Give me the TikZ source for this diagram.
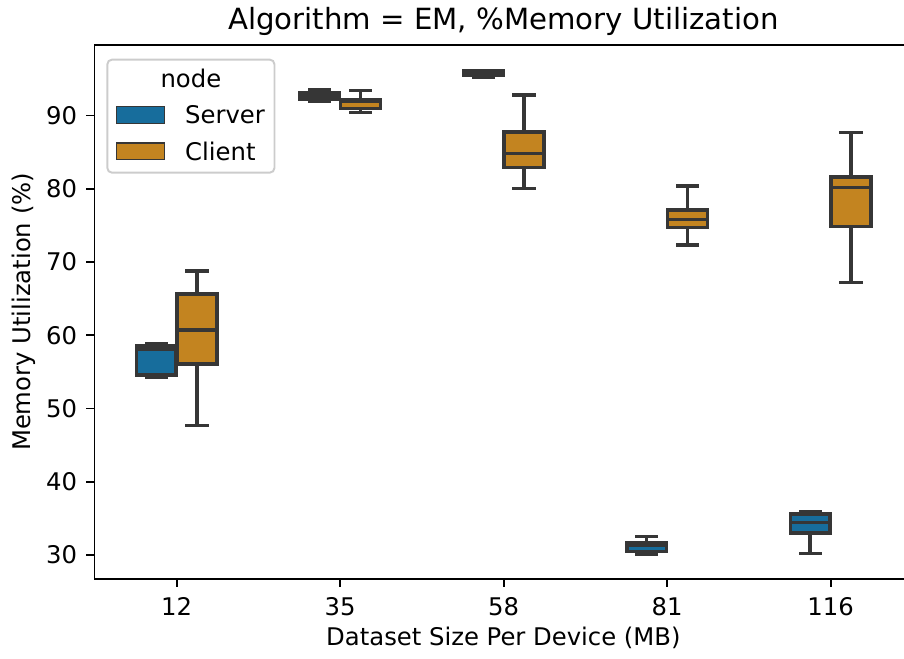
\documentclass[tikz,border=0pt]{standalone}
\usepackage{fontspec}
\setmainfont{DejaVu Sans}
\definecolor{srv}{RGB}{23,109,156}
\definecolor{cli}{RGB}{195,132,32}
\definecolor{edgegray}{RGB}{54,54,54}
\definecolor{framegray}{RGB}{204,204,204}
\newcommand{\lblfont}{\fontsize{12.15}{14}\selectfont}
\newcommand{\ttlfont}{\fontsize{14.6}{17}\selectfont}
% one box with whiskers: #1 centre x, #2 fill, #3 upper cap, #4 upper quartile,
% #5 median, #6 lower quartile, #7 lower cap (all y in picture units, downward)
\newcommand{\whiskerbox}[7]{%
  \draw[boxline] (#1,#4) -- (#1,#3);
  \draw[boxline] ({#1-9.9},#3) -- ({#1+9.9},#3);
  \draw[boxline] (#1,#6) -- (#1,#7);
  \draw[boxline] ({#1-9.9},#7) -- ({#1+9.9},#7);
  \filldraw[boxline, fill=#2] ({#1-19.8},#4) rectangle ({#1+19.8},#6);
  \draw[boxline] ({#1-19.8},#5) -- ({#1+19.8},#5);
}
\begin{document}
\begin{tikzpicture}[x=0.5pt, y=-0.5pt,
  boxline/.style={draw=edgegray, line width=1.75pt, line cap=rect, line join=miter},
  spine/.style={draw=black, line width=0.97pt, line cap=rect},
  tickmark/.style={draw=black, line width=0.97pt},
  ticklbl/.style={font=\lblfont, inner sep=0pt},
  legpatch/.style={draw=edgegray, line width=0.65pt}]
\useasboundingbox (0,0) rectangle (904,658);
\begin{scope}
\clip (0,0) rectangle (904,658);

% boxes: server (blue) and client (orange) for each dataset size
\whiskerbox{156.2}{srv}{343.5}{346}{349}{374.9}{377}
\whiskerbox{197.0}{cli}{271}{294}{330}{364.2}{425.7}

\whiskerbox{319.7}{srv}{89.5}{92.5}{95.5}{98.9}{101.7}
\whiskerbox{360.5}{cli}{90.5}{100}{101.5}{108.3}{112.3}

\whiskerbox{483.2}{srv}{70.8}{70.8}{72}{74.9}{77.5}
\whiskerbox{524.0}{cli}{95.2}{132}{153.3}{167.5}{188.3}

\whiskerbox{646.7}{srv}{536.7}{542.5}{545.5}{551.5}{554}
\whiskerbox{687.5}{cli}{186}{210}{219.3}{227.5}{245}

\whiskerbox{810.2}{srv}{511.5}{513.8}{522.7}{533.2}{553.3}
\whiskerbox{851.0}{cli}{132.3}{176.8}{187.3}{226.5}{282.7}

% axes frame
\draw[spine] (94.5,45) -- (94.5,578.7);
\draw[spine] (94.5,578.7) -- (910,578.7);
\draw[spine] (94.5,45) -- (910,45);
\end{scope}

% y ticks
\foreach \v [count=\k from 0] in {30,40,50,60,70,80,90} {
  \draw[tickmark] (94.5,{555-73.25*\k}) -- (86,{555-73.25*\k});
  \node[ticklbl, anchor=base east] (ytick\v) at (77.5,{555-73.25*\k+8.85}) {\v};
}
% x ticks
\foreach \c/\t in {176.6/12, 340.1/35, 503.6/58, 667.1/81, 830.6/116} {
  \draw[tickmark] (\c,578.7) -- (\c,587.2);
  \node[ticklbl, anchor=base] (xtick\t) at (\c,615) {\t};
}

% titles
\node[font=\ttlfont, inner sep=0pt, anchor=base] (title) at (503.4,30)
  {Algorithm = EM, \%Memory Utilization};
\node[font=\lblfont, inner sep=0pt, anchor=base] (xlabel) at (503.4,645)
  {Dataset Size Per Device (MB)};
\node[font=\lblfont, inner sep=0pt, anchor=base, rotate=90] (ylabel) at (31,311.9)
  {Memory Utilization (\%)};

% legend
\filldraw[draw=framegray, fill=white, fill opacity=0.8, line width=0.97pt,
  rounded corners=2.4pt] (107.3,59.6) rectangle (274.5,172.7);
\node[ticklbl, anchor=base] (legtitle) at (190.9,87.3) {node};
\filldraw[legpatch, fill=srv] (116.4,106.7) rectangle (164.3,123.3);
\filldraw[legpatch, fill=cli] (116.4,143) rectangle (164.3,159.3);
\node[ticklbl, anchor=base west] (legsrv) at (184.8,124) {Server};
\node[ticklbl, anchor=base west] (legcli) at (184.8,160) {Client};
\end{tikzpicture}
\end{document}
